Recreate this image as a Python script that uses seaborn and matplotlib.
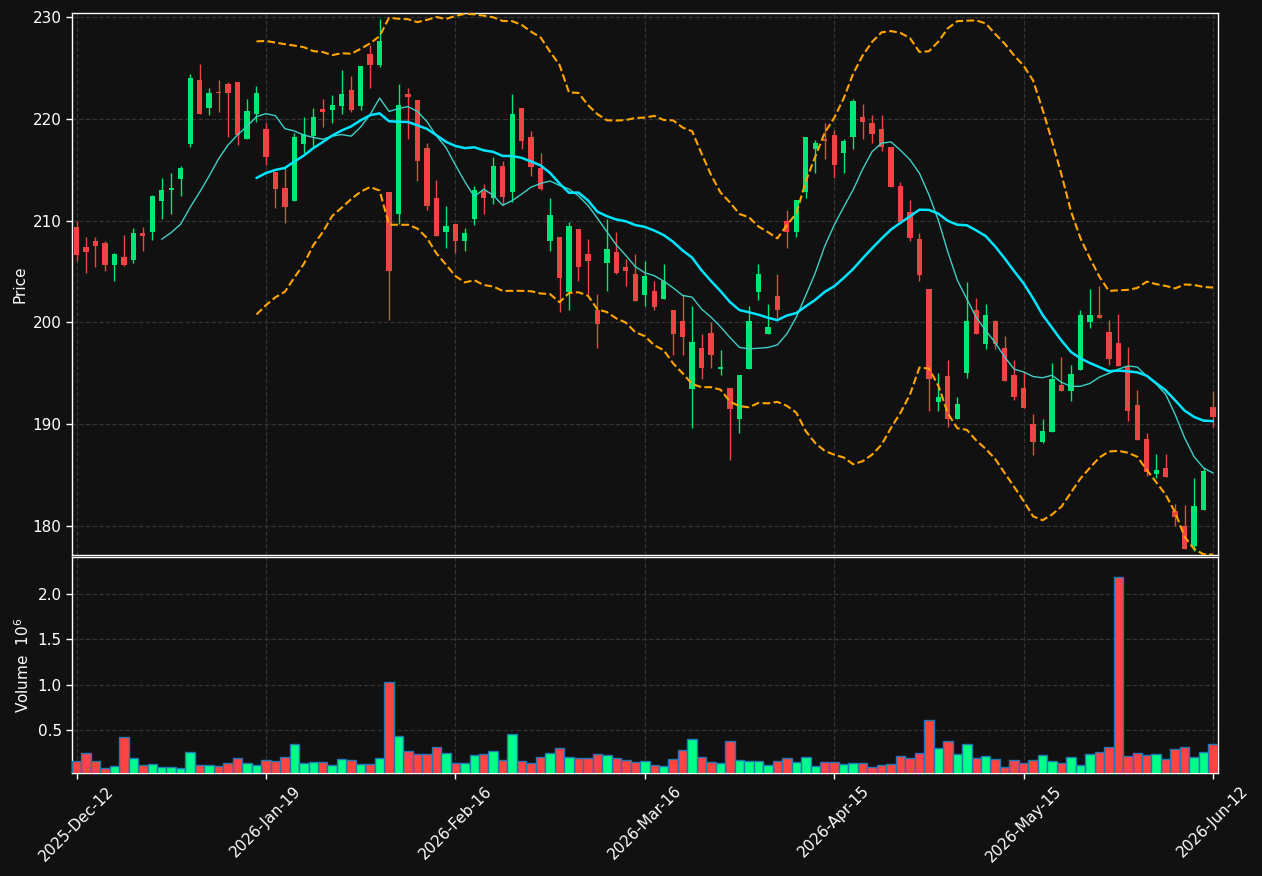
import numpy as np
import pandas as pd
import matplotlib
matplotlib.use('Agg')
import matplotlib.pyplot as plt
import seaborn as sns

# daily OHLC
opens = [209.4, 207.4, 208.0, 207.8, 205.6, 206.4, 206.1, 208.8, 208.9, 211.9,
         213.0, 214.1, 217.5, 223.8, 221.1, 222.6, 223.4, 223.6, 218.0, 220.5,
         219.0, 214.8, 213.2, 211.9, 217.5, 218.3, 221.0, 220.9, 221.3, 222.8,
         221.3, 226.4, 225.3, 212.8, 210.6, 222.4, 221.8, 217.1, 212.2, 208.9,
         209.7, 208.0, 210.2, 212.9, 212.2, 215.4, 212.8, 221.1, 218.2, 215.2,
         208.0, 208.4, 203.0, 209.2, 206.7, 201.2, 205.8, 206.9, 205.4, 204.7,
         202.7, 203.1, 202.3, 201.2, 200.1, 193.4, 197.5, 198.9, 195.4, 193.5,
         190.5, 195.4, 203.0, 198.8, 202.6, 210.0, 208.9, 212.8, 217.0, 218.0,
         218.4, 216.6, 218.2, 220.2, 219.6, 219.0, 217.2, 213.4, 210.8, 208.2,
         203.3, 192.2, 194.7, 190.5, 195.0, 201.2, 197.9, 200.1, 197.5, 194.8,
         193.5, 190.0, 188.2, 189.2, 193.8, 193.2, 195.3, 200.0, 200.7, 199.0,
         198.0, 195.7, 191.9, 188.5, 185.1, 185.7, 181.5, 180.0, 178.0, 181.6,
         191.7]
highs = [210.0, 208.4, 208.4, 208.0, 206.8, 208.6, 209.3, 209.4, 212.5, 214.2,
         214.7, 215.4, 224.4, 225.4, 223.0, 223.8, 223.6, 223.6, 221.9, 223.2,
         219.6, 214.8, 215.2, 218.6, 220.2, 221.1, 221.9, 222.3, 224.8, 224.2,
         225.2, 227.3, 229.8, 212.8, 223.4, 223.0, 221.8, 217.6, 214.0, 211.4,
         209.7, 209.3, 213.4, 213.6, 216.2, 215.9, 222.4, 221.1, 218.8, 216.6,
         212.2, 208.4, 209.9, 209.2, 208.2, 202.8, 210.2, 208.9, 206.2, 206.7,
         206.0, 204.1, 205.7, 201.2, 202.7, 201.6, 198.8, 200.0, 197.3, 193.5,
         194.8, 201.6, 205.7, 201.8, 204.7, 211.0, 212.0, 218.2, 217.9, 219.6,
         218.9, 218.0, 221.9, 221.5, 220.4, 220.4, 217.2, 213.8, 212.0, 208.8,
         203.3, 195.0, 196.3, 192.7, 204.0, 202.4, 201.8, 200.2, 198.7, 196.3,
         195.2, 191.0, 190.5, 196.0, 196.6, 195.8, 201.2, 203.3, 203.6, 200.2,
         200.8, 197.6, 193.3, 189.1, 187.1, 187.1, 182.1, 182.0, 184.7, 185.7,
         193.2]
lows = [206.0, 204.8, 205.4, 205.0, 204.1, 205.5, 205.8, 207.0, 208.1, 210.2,
        210.6, 212.4, 217.2, 220.5, 220.4, 220.7, 218.2, 217.4, 218.0, 219.7,
        215.5, 211.2, 209.8, 211.9, 216.6, 217.3, 219.2, 219.6, 220.5, 220.7,
        220.9, 223.0, 225.1, 200.2, 209.7, 218.0, 213.9, 211.0, 208.5, 207.3,
        206.8, 207.0, 209.6, 210.6, 211.6, 211.5, 211.8, 217.0, 214.4, 213.0,
        207.0, 201.0, 201.2, 204.1, 202.8, 197.5, 203.1, 204.7, 203.6, 202.1,
        201.6, 201.2, 202.3, 196.8, 196.8, 189.6, 194.4, 195.5, 194.8, 186.5,
        189.1, 195.4, 202.2, 198.8, 200.4, 207.3, 208.4, 212.2, 214.7, 216.0,
        214.2, 214.7, 217.0, 218.0, 217.6, 216.8, 213.3, 209.9, 208.0, 204.1,
        191.3, 191.3, 189.7, 190.5, 194.5, 198.8, 197.4, 197.4, 194.2, 192.4,
        191.6, 187.0, 188.1, 189.2, 193.2, 192.3, 195.3, 199.4, 200.4, 195.8,
        195.7, 190.3, 188.4, 184.9, 184.7, 184.8, 180.0, 177.7, 177.5, 181.6,
        189.7]
closes = [206.6, 206.9, 207.5, 205.6, 206.7, 205.6, 208.8, 208.5, 212.4, 213.0,
          213.2, 215.2, 224.0, 220.5, 222.5, 222.5, 222.5, 218.4, 220.8, 222.5,
          216.2, 213.1, 211.3, 218.2, 218.5, 220.2, 220.7, 221.4, 222.4, 220.9,
          225.2, 225.3, 227.6, 205.0, 221.4, 222.1, 215.9, 211.4, 208.5, 209.5,
          208.0, 208.8, 213.0, 212.2, 215.4, 212.3, 220.5, 217.8, 215.3, 213.1,
          210.5, 204.4, 209.5, 205.4, 206.0, 199.8, 207.2, 204.8, 205.0, 202.1,
          204.5, 201.5, 204.1, 198.8, 198.6, 198.1, 195.5, 196.8, 195.6, 191.5,
          194.8, 200.1, 204.7, 199.5, 201.2, 208.9, 212.0, 218.2, 217.6, 217.8,
          215.5, 217.8, 221.7, 219.7, 218.5, 217.2, 213.3, 209.9, 208.3, 204.6,
          194.4, 192.7, 190.5, 192.0, 200.1, 198.8, 200.7, 197.9, 194.2, 192.7,
          191.6, 188.2, 189.3, 194.4, 193.2, 194.9, 200.7, 200.7, 200.4, 196.4,
          195.7, 191.3, 188.4, 185.3, 185.5, 184.8, 180.9, 177.7, 181.9, 185.4,
          190.7]
# volume in millions
volumes = [0.152, 0.244, 0.152, 0.079, 0.100, 0.420, 0.189, 0.112, 0.123, 0.090,
           0.090, 0.079, 0.255, 0.112, 0.112, 0.100, 0.134, 0.189, 0.134, 0.112,
           0.167, 0.152, 0.200, 0.342, 0.134, 0.145, 0.145, 0.112, 0.178, 0.167,
           0.123, 0.123, 0.189, 1.035, 0.430, 0.266, 0.233, 0.233, 0.310, 0.244,
           0.134, 0.134, 0.222, 0.233, 0.266, 0.167, 0.452, 0.156, 0.134, 0.200,
           0.244, 0.299, 0.200, 0.189, 0.189, 0.233, 0.222, 0.189, 0.167, 0.145,
           0.156, 0.112, 0.100, 0.178, 0.277, 0.397, 0.200, 0.145, 0.134, 0.375,
           0.167, 0.156, 0.156, 0.112, 0.156, 0.189, 0.145, 0.200, 0.100, 0.145,
           0.145, 0.123, 0.134, 0.134, 0.090, 0.112, 0.123, 0.211, 0.189, 0.244,
           0.606, 0.299, 0.375, 0.233, 0.342, 0.189, 0.211, 0.178, 0.090, 0.167,
           0.134, 0.167, 0.222, 0.156, 0.134, 0.200, 0.112, 0.233, 0.255, 0.310,
           2.189, 0.211, 0.244, 0.222, 0.233, 0.178, 0.288, 0.310, 0.200, 0.255,
           0.342]
tick_pos = [0, 20, 40, 60, 80, 100, 120]
tick_labels = ['2025-Dec-12', '2026-Jan-19', '2026-Feb-16', '2026-Mar-16',
               '2026-Apr-15', '2026-May-15', '2026-Jun-12']

bg = '#111111'
grid_c = '#333333'
sns.set_style('dark', rc={
    'axes.facecolor': bg, 'figure.facecolor': bg,
    'axes.edgecolor': 'white', 'axes.labelcolor': 'white',
    'xtick.color': 'white', 'ytick.color': 'white', 'text.color': 'white',
    'grid.color': grid_c, 'grid.linestyle': '--',
    'xtick.bottom': True, 'ytick.left': True,
})
plt.rcParams['font.family'] = ['DejaVu Sans']

df = pd.DataFrame({'open': opens, 'high': highs, 'low': lows,
                   'close': closes, 'volume': volumes})
df['idx'] = np.arange(len(df))
df['dir'] = np.where(df['close'] >= df['open'], 'up', 'down')
ma10 = df['close'].rolling(10).mean()
ma20 = df['close'].rolling(20).mean()
sd20 = df['close'].rolling(20).std(ddof=0)
upper = ma20 + 2 * sd20
lower = ma20 - 2 * sd20

fig = plt.figure(figsize=(12.62, 8.76), dpi=100)
ax1 = fig.add_axes([0.0571, 0.3661, 0.9080, 0.6191])
ax2 = fig.add_axes([0.0571, 0.1176, 0.9080, 0.2462])

up_c, dn_c = '#00e676', '#ef4444'
cols = np.where(df['dir'] == 'up', up_c, dn_c)

# candles
ax1.vlines(df['idx'], df['low'], df['high'], colors=cols, lw=1.0, zorder=2)
body_lo = np.minimum(df['open'], df['close'])
body_h = np.maximum(np.abs(df['close'] - df['open']), 0.15)
ax1.bar(df['idx'], body_h, bottom=body_lo, width=0.56, color=cols,
        linewidth=0, zorder=3)

# moving averages / bands
sns.lineplot(x=df['idx'], y=ma10, ax=ax1, color='#3fcfc4', lw=1.0, zorder=4)
sns.lineplot(x=df['idx'], y=ma20, ax=ax1, color='#00e5ff', lw=1.8, zorder=5)
ax1.plot(df['idx'], upper, color='#ffa500', lw=1.5, ls='--', zorder=4)
ax1.plot(df['idx'], lower, color='#ffa500', lw=1.5, ls='--', zorder=4)

ax1.set_xlim(-0.47, 120.52)
ax1.set_ylim(177.1, 230.4)
ax1.set_yticks([180, 190, 200, 210, 220, 230])
ax1.set_xticks(tick_pos)
ax1.set_xticklabels([])
ax1.tick_params(axis='x', length=0)
ax1.set_ylabel('Price', fontsize=11)
ax1.set_xlabel('')
ax1.grid(True, ls='--', color=grid_c, lw=0.9)

# volume
sns.barplot(data=df, x='idx', y='volume', hue='dir', dodge=False,
            palette={'up': '#00ff88', 'down': '#ff4444'}, saturation=1,
            width=1.0, edgecolor='#1f77b4', linewidth=1.0, legend=False,
            ax=ax2, zorder=3)
ax2.set_xlim(-0.47, 120.52)
ax2.set_ylim(0.3 * min(volumes), 1.1 * max(volumes))
ax2.set_yticks([0.5, 1.0, 1.5, 2.0])
ax2.set_xticks(tick_pos)
ax2.set_xticklabels(tick_labels, rotation=45, ha='center', fontsize=11)
ax2.set_xlabel('')
ax2.set_ylabel(r'Volume  $10^{6}$', fontsize=11)
ax2.grid(True, ls='--', color=grid_c, lw=0.9)

for ax in (ax1, ax2):
    ax.tick_params(axis='y', labelsize=11, length=4, width=1)
    for s in ax.spines.values():
        s.set_color('white')
        s.set_linewidth(1.0)
ax2.tick_params(axis='x', length=4, width=1)

fig.savefig('out.png', dpi=100, facecolor=bg)
